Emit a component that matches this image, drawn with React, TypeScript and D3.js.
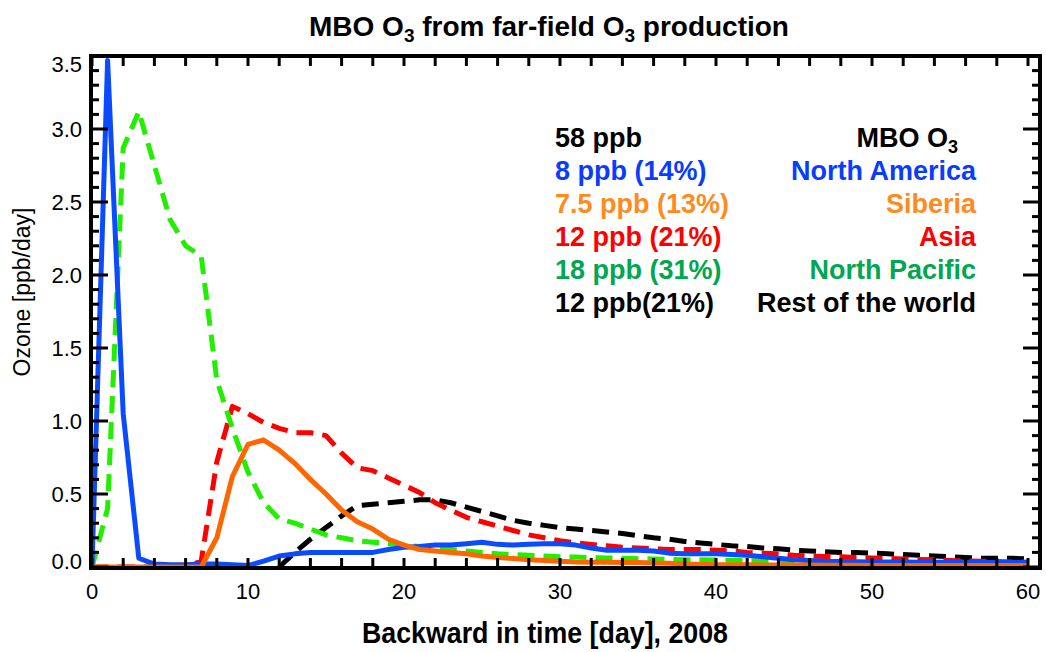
import React from "react";
import * as d3 from "d3";

// Backward time axis (days) and the daily far-field O3 production attributed to each source region
const days: number[] = d3.range(0, 61);

const northAmerica: number[] = [
  0, 3.47, 1.05, 0.06, 0.02, 0.015, 0.015, 0.02, 0.02, 0.015, 0.01,
  0.04, 0.075, 0.09, 0.1, 0.1, 0.1, 0.1, 0.1, 0.12, 0.135,
  0.14, 0.15, 0.15, 0.16, 0.17, 0.155, 0.15, 0.155, 0.16, 0.16,
  0.15, 0.13, 0.115, 0.115, 0.115, 0.11, 0.095, 0.09, 0.09, 0.09,
  0.085, 0.08, 0.07, 0.06, 0.05, 0.045, 0.04, 0.038, 0.036, 0.035,
  0.035, 0.034, 0.033, 0.033, 0.032, 0.032, 0.031, 0.03, 0.03, 0.03,
];

const siberia: number[] = [
  0, 0, 0, 0, 0, 0, 0, 0, 0.2, 0.62, 0.84,
  0.87, 0.8, 0.71, 0.6, 0.5, 0.39, 0.31, 0.26, 0.19, 0.15,
  0.12, 0.11, 0.1, 0.09, 0.075, 0.065, 0.058, 0.05, 0.045, 0.04,
  0.035, 0.033, 0.032, 0.03, 0.03, 0.028, 0.025, 0.02, 0.018, 0.015,
  0.015, 0.015, 0.014, 0.014, 0.013, 0.013, 0.012, 0.012, 0.012, 0.011,
  0.011, 0.011, 0.01, 0.01, 0.01, 0.01, 0.01, 0.01, 0.01, 0.01,
];

const asia: number[] = [
  0, 0, 0, 0, 0, 0, 0, 0.04, 0.72, 1.1, 1.05,
  0.99, 0.95, 0.92, 0.92, 0.9, 0.78, 0.68, 0.66, 0.61, 0.56,
  0.51, 0.44, 0.39, 0.34, 0.31, 0.28, 0.25, 0.22, 0.2, 0.18,
  0.165, 0.155, 0.145, 0.135, 0.13, 0.125, 0.12, 0.12, 0.12, 0.115,
  0.11, 0.1, 0.095, 0.09, 0.08, 0.075, 0.072, 0.07, 0.065, 0.062,
  0.06, 0.055, 0.052, 0.05, 0.045, 0.042, 0.04, 0.037, 0.035, 0.033,
];

const northPacific: number[] = [
  0, 0.4, 2.87, 3.12, 2.75, 2.38, 2.2, 2.13, 1.28, 0.95, 0.65,
  0.44, 0.33, 0.3, 0.26, 0.22, 0.2, 0.18, 0.17, 0.16, 0.15,
  0.14, 0.13, 0.12, 0.11, 0.1, 0.09, 0.085, 0.08, 0.075, 0.07,
  0.068, 0.065, 0.062, 0.06, 0.057, 0.055, 0.052, 0.05, 0.05, 0.048,
  0.046, 0.044, 0.042, 0.04, 0.038, 0.036, 0.034, 0.032, 0.03, 0.028,
  0.027, 0.026, 0.025, 0.024, 0.023, 0.022, 0.022, 0.021, 0.02, 0.02,
];

const restOfWorld: (number | null)[] = [
  null, null, null, null, null, null, null, null, null, null, null,
  null, 0, 0.1, 0.19, 0.27, 0.35, 0.42, 0.43, 0.44, 0.45,
  0.46, 0.46, 0.44, 0.41, 0.38, 0.35, 0.32, 0.3, 0.285, 0.27,
  0.26, 0.25, 0.24, 0.23, 0.215, 0.2, 0.19, 0.175, 0.165, 0.155,
  0.145, 0.14, 0.13, 0.125, 0.115, 0.11, 0.105, 0.1, 0.1, 0.095,
  0.09, 0.085, 0.08, 0.075, 0.07, 0.065, 0.06, 0.06, 0.06, 0.055,
];

const xTickLabels: number[] = [0, 10, 20, 30, 40, 50, 60];
const yTickLabels: number[] = [0, 0.5, 1, 1.5, 2, 2.5, 3, 3.5];

const legendAmounts: string[] = [
  "58 ppb", "8 ppb (14%)", "7.5 ppb (13%)", "12 ppb (21%)", "18 ppb (31%)", "12 ppb(21%)",
];
const legendNames: string[] = [
  "MBO O", "North America", "Siberia", "Asia", "North Pacific", "Rest of the world",
];
const legendColors: string[] = ["#000000", "#0a3cff", "#ff8a1e", "#ff0000", "#00a651", "#000000"];

const W = 1046;
const H = 652;
const frame = { left: 91, right: 1040, top: 56, bottom: 568 };
const x = d3.scaleLinear().domain([0, 60]).range([92, 1028]);
const y = d3.scaleLinear().domain([0, 3.5]).range([567, 56]);

const font = "'Liberation Sans', Arial, Helvetica, sans-serif";

type Series = {
  key: string;
  values: (number | null)[];
  color: string;
  dash?: string;
};

// drawn back to front
const series: Series[] = [
  { key: "rest", values: restOfWorld, color: "#000000", dash: "17,9" },
  { key: "asia", values: asia, color: "#ff0000", dash: "17,9" },
  { key: "npac", values: northPacific, color: "#22ee00", dash: "17,9" },
  { key: "namer", values: northAmerica, color: "#0a4bff" },
  { key: "sib", values: siberia, color: "#ff6600" },
];

export default function App() {
  const line = d3
    .line<number>()
    .defined((_, i, arr) => arr[i] !== null)
    .x((_, i) => x(days[i]))
    .y((d) => y(d as number));

  const xMinor = d3.range(0, 61, 2);
  const yMinor = d3.range(0, 36).map((v) => v / 10);

  return (
    <svg
      width={W}
      height={H}
      viewBox={`0 0 ${W} ${H}`}
      style={{ position: "absolute", left: 0, top: 0, background: "#fff" }}
      fontFamily={font}
    >
      <rect x={0} y={0} width={W} height={H} fill="#fff" />

      {/* title, set in a narrow bold face */}
      <text
        x={549}
        y={36}
        textAnchor="middle"
        fontSize={28}
        fontWeight="bold"
        fill="#000"
        textLength={480}
        lengthAdjust="spacingAndGlyphs"
      >
        MBO O<tspan fontSize={19} dy={6}>3</tspan>
        <tspan dy={-6}> from far-field O</tspan>
        <tspan fontSize={19} dy={6}>3</tspan>
        <tspan dy={-6}> production</tspan>
      </text>

      {/* data lines */}
      <g fill="none" strokeLinejoin="round">
        {series.map((s) => (
          <path
            key={s.key}
            d={line(s.values as number[]) || ""}
            stroke={s.color}
            strokeWidth={5}
            strokeDasharray={s.dash}
          />
        ))}
      </g>

      {/* frame */}
      <rect
        x={frame.left}
        y={frame.top}
        width={frame.right - frame.left}
        height={frame.bottom - frame.top}
        fill="none"
        stroke="#000"
        strokeWidth={4}
      />

      {/* x ticks (bottom and top) */}
      <g stroke="#000" strokeWidth={3}>
        {xMinor.map((d) => (
          <g key={`xt${d}`}>
            <line x1={x(d)} x2={x(d)} y1={frame.bottom} y2={frame.bottom - 10} />
            <line x1={x(d)} x2={x(d)} y1={frame.top} y2={frame.top + 10} />
          </g>
        ))}
      </g>

      {/* y ticks (left and right) */}
      <g stroke="#000" strokeWidth={3}>
        {yMinor.map((v) => {
          const major = Math.abs(v * 2 - Math.round(v * 2)) < 1e-6;
          const len = major ? 17 : 8;
          return (
            <g key={`yt${v}`}>
              <line x1={frame.left} x2={frame.left + len} y1={y(v)} y2={y(v)} />
              <line x1={frame.right} x2={frame.right - len} y1={y(v)} y2={y(v)} />
            </g>
          );
        })}
      </g>

      {/* x tick labels */}
      <g fontSize={22} textAnchor="middle" fill="#000">
        {xTickLabels.map((d) => (
          <text key={`xl${d}`} x={x(d)} y={599}>
            {d}
          </text>
        ))}
      </g>

      {/* y tick labels */}
      <g fontSize={22} textAnchor="end" fill="#000">
        {yTickLabels.map((v, i) => {
          let cy = y(v);
          if (i === 0) cy -= 6;
          if (i === yTickLabels.length - 1) cy += 8;
          return (
            <text key={`yl${v}`} x={82} y={cy + 8}>
              {v.toFixed(1)}
            </text>
          );
        })}
      </g>

      {/* axis titles */}
      <text
        x={545}
        y={643}
        textAnchor="middle"
        fontSize={30}
        fontWeight="bold"
        fill="#000"
        textLength={366}
        lengthAdjust="spacingAndGlyphs"
      >
        Backward in time [day], 2008
      </text>
      <text
        transform={`translate(30, 292) rotate(-90)`}
        textAnchor="middle"
        fontSize={23}
        fill="#000"
      >
        Ozone [ppb/day]
      </text>

      {/* legend */}
      <g fontSize={27} fontWeight="bold">
        {legendAmounts.map((t, i) => (
          <text key={`la${i}`} x={555} y={147 + i * 33} fill={legendColors[i]}>
            {t}
          </text>
        ))}
        {legendNames.map((t, i) => (
          <text
            key={`ln${i}`}
            x={i === 0 ? 958 : 976}
            y={147 + i * 33}
            textAnchor="end"
            fill={legendColors[i]}
          >
            {t}
            {i === 0 ? (
              <tspan fontSize={18} dy={6}>
                3
              </tspan>
            ) : null}
          </text>
        ))}
      </g>
    </svg>
  );
}
